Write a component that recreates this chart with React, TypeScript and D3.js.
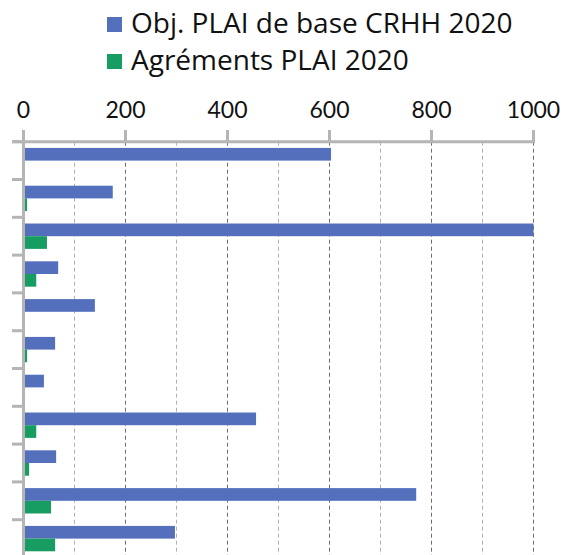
import React from 'react';
import * as d3 from 'd3';

const categories = ['1', '2', '3', '4', '5', '6', '7', '8', '9', '10', '11'];
const seriesNames = ['Obj. PLAI de base CRHH 2020', 'Agréments PLAI 2020'];
const objectifs = [603, 175, 1000, 68, 140, 62, 40, 456, 64, 770, 297];
const agrements = [2, 7, 46, 25, 0, 7, 3, 25, 11, 54, 62];
const xTicks = [0, 200, 400, 600, 800, 1000];
const minorTicks = [100, 300, 500, 700, 900];

const colors = ['#5470bd', '#179c61'];
const font = 'Lato, "Open Sans", sans-serif';
const legendFont = '"Open Sans", Lato, sans-serif';
const axisGrey = '#b5b5b5';

const W = 563;
const H = 555;
const top = 141.7;
const step = 37.8;

const x = d3.scaleLinear().domain([0, 1000]).range([23.5, 533.5]);
const y = d3.scaleBand()
  .domain(categories)
  .range([top, top + step * categories.length])
  .padding(0);
const sub = d3.scaleBand()
  .domain(['obj', 'agr'])
  .range([0, y.bandwidth()])
  .paddingInner(0)
  .paddingOuter(0.49);

export default function App() {
  const rows = categories.map((c, i) => ({ c, obj: objectifs[i], agr: agrements[i] }));
  return (
    <svg width={W} height={H} style={{ position: 'absolute', left: 0, top: 0 }}>
      <rect width={W} height={H} fill="#fff" />
      {/* legend */}
      {seriesNames.map((name, i) => (
        <g key={name} transform={`translate(107, ${17 + i * 37})`}>
          <rect width={15} height={15} fill={colors[i]} />
          <text x={24} y={16} fontFamily={legendFont} fontSize={28} fill="#111">{name}</text>
        </g>
      ))}
      {/* gridlines */}
      {minorTicks.map(t => (
        <line key={'m' + t} x1={x(t)} x2={x(t)} y1={top} y2={H} stroke="#b0b0b0" strokeWidth={1} strokeDasharray="4,3" />
      ))}
      {xTicks.slice(1).map(t => (
        <line key={'g' + t} x1={x(t)} x2={x(t)} y1={top} y2={H} stroke="#6e6e6e" strokeWidth={1} strokeDasharray="4,3" />
      ))}
      {/* bars */}
      {rows.map(r => (
        <g key={r.c} transform={`translate(0, ${y(r.c)})`}>
          <rect x={x(0)} y={sub('obj')} width={x(r.obj) - x(0)} height={sub.bandwidth()} fill={colors[0]} />
          <rect x={x(0)} y={sub('agr')} width={x(r.agr) - x(0)} height={sub.bandwidth()} fill={colors[1]} />
        </g>
      ))}
      {/* category axis */}
      <line x1={x(0)} x2={x(0)} y1={top} y2={H} stroke={axisGrey} strokeWidth={3} />
      {categories.map(c => (
        <line key={'t' + c} x1={12} x2={x(0)} y1={y(c)} y2={y(c)} stroke={axisGrey} strokeWidth={3} />
      ))}
      {/* value axis */}
      <line x1={12} x2={x(1000) + 1.5} y1={top} y2={top} stroke={axisGrey} strokeWidth={3} />
      {xTicks.map(t => (
        <g key={'x' + t}>
          <line x1={x(t)} x2={x(t)} y1={130} y2={top} stroke={axisGrey} strokeWidth={3} />
          <text x={x(t)} y={118} textAnchor="middle" fontFamily={font} fontSize={23} fill="#111">{t}</text>
        </g>
      ))}
    </svg>
  );
}
